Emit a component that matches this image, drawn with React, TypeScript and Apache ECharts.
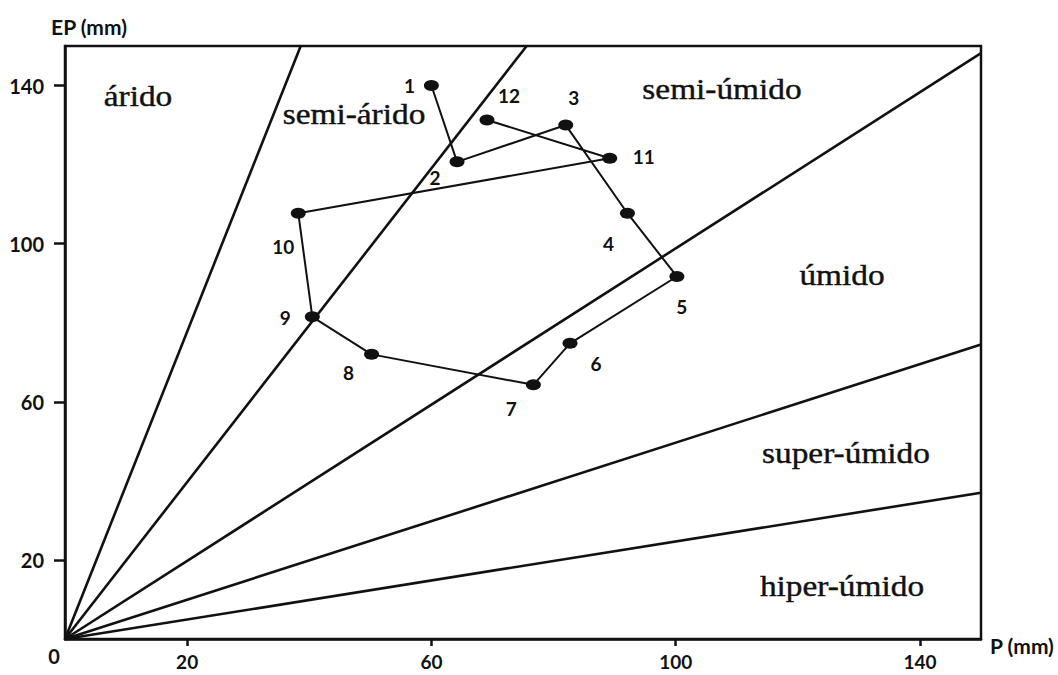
import React, { useEffect, useRef } from "react";
import * as echarts from "echarts";

// Monthly water balance: precipitation (P) vs potential evapotranspiration (EP), in mm
const months = ["1", "2", "3", "4", "5", "6", "7", "8", "9", "10", "11", "12"];
const precipitation = [60, 64.2, 82, 92.1, 100.2, 82.7, 76.7, 50.2, 40.5, 38.2, 89.2, 69.1];
const evapotranspiration = [140, 120.7, 130, 107.7, 91.7, 74.8, 64.3, 72, 81.5, 107.7, 121.6, 131.3];

// Axis tick values
const tickValues = [20, 60, 100, 140];

// Climate class boundaries: rays from the origin to these end points [P, EP]
const boundaryEnds: [number, number][] = [
  [38.6, 150],
  [75.6, 150],
  [150, 148.2],
  [150, 74.5],
  [150, 37],
];

// Climate class names
const zoneNames = ["árido", "semi-árido", "semi-úmido", "úmido", "super-úmido", "hiper-úmido"];

// Label placement (pixels) for each month and zone name
const monthLabelOffsets: [number, number][] = [
  [-22, 0], [-22, 16], [8, -28], [-19, 30], [5, 30], [26, 20],
  [-22, 24], [-23, 18], [-27, 1], [-15, 33], [34, -2], [22, -24],
];
const zoneLabelCenters: [number, number][] = [
  [138, 96], [354, 114], [722, 89], [842, 275], [846, 453], [842, 586],
];

const AXIS_FONT = "Lato, 'Open Sans', sans-serif";
const SERIF_FONT = "'Liberation Serif', 'DejaVu Serif', serif";
const INK = "#111";

export default function App() {
  const ref = useRef<HTMLDivElement>(null);

  useEffect(() => {
    if (!ref.current) return;
    const chart = echarts.init(ref.current, undefined, { renderer: "svg" });

    const boundarySeries = boundaryEnds.map((end, i) => ({
      type: "line",
      name: "boundary-" + i,
      data: [[0, 0], end],
      symbol: "none",
      silent: true,
      lineStyle: { color: INK, width: 2.6 },
      z: 2,
    }));

    const monthData = months.map((m, i) => ({
      value: [precipitation[i], evapotranspiration[i]],
      name: m,
      label: {
        show: true,
        formatter: m,
        position: "inside",
        offset: monthLabelOffsets[i],
      },
    }));

    const zoneText = zoneNames.map((name, i) => ({
      type: "text",
      x: zoneLabelCenters[i][0],
      y: zoneLabelCenters[i][1],
      scaleX: 1.15,
      style: {
        text: name,
        fill: INK,
        font: "29px " + SERIF_FONT,
        textAlign: "center",
        textVerticalAlign: "middle",
        stroke: INK,
        lineWidth: 0.4,
      },
      z: 10,
    }));

    const plainText = (text: string, x: number, y: number, size: number) => ({
      type: "text",
      x,
      y,
      style: {
        text,
        fill: INK,
        font: "bold " + size + "px " + AXIS_FONT,
        textAlign: "center",
        textVerticalAlign: "middle",
      },
      z: 10,
    });

    chart.setOption({
      animation: false,
      backgroundColor: "#fff",
      grid: {
        left: 65,
        top: 46,
        width: 916,
        height: 593,
        show: true,
        borderColor: INK,
        borderWidth: 2.5,
        backgroundColor: "transparent",
      },
      xAxis: {
        type: "value",
        min: 0,
        max: 150,
        splitLine: { show: false },
        axisLine: { show: true, lineStyle: { color: INK, width: 2.5 } },
        axisTick: {
          show: true,
          customValues: tickValues,
          length: 7,
          lineStyle: { color: INK, width: 2.5 },
        },
        axisLabel: {
          customValues: tickValues,
          margin: 13,
          color: INK,
          fontFamily: AXIS_FONT,
          fontWeight: "bold",
          fontSize: 19,
        },
      },
      yAxis: {
        type: "value",
        min: 0,
        max: 150,
        splitLine: { show: false },
        axisLine: { show: true, lineStyle: { color: INK, width: 2.5 } },
        axisTick: {
          show: true,
          customValues: tickValues,
          length: 11,
          lineStyle: { color: INK, width: 2.5 },
        },
        axisLabel: {
          customValues: tickValues,
          margin: 21,
          color: INK,
          fontFamily: AXIS_FONT,
          fontWeight: "bold",
          fontSize: 20,
        },
      },
      series: [
        ...boundarySeries,
        {
          type: "line",
          name: "balanço",
          data: monthData,
          symbol: "circle",
          symbolSize: [15, 11],
          itemStyle: { color: INK },
          lineStyle: { color: INK, width: 2 },
          label: {
            color: INK,
            fontFamily: AXIS_FONT,
            fontWeight: "bold",
            fontSize: 19,
          },
          z: 5,
        },
      ],
      graphic: [
        ...zoneText,
        plainText("EP (mm)", 89, 26, 21),
        plainText("P (mm)", 1022, 645, 21),
        plainText("0", 54, 656, 20),
      ],
    });

    return () => chart.dispose();
  }, []);

  return (
    <div
      ref={ref}
      style={{ position: "fixed", left: 0, top: 0, width: 1058, height: 675 }}
    />
  );
}
